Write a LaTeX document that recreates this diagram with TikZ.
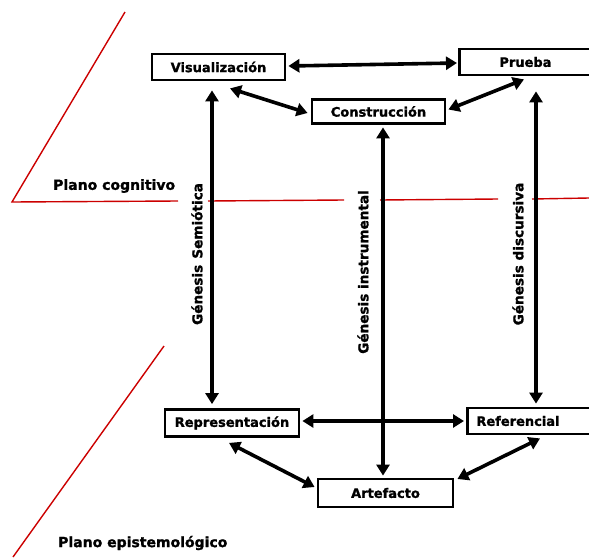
\documentclass[tikz,border=0pt]{standalone}
\usepackage{fontspec}
\setmainfont{DejaVu Sans}
\newfontfamily\heavyfont[BoldFeatures={FakeBold=1.3}]{DejaVu Sans}
\usetikzlibrary{arrows.meta}
\begin{document}
\begin{tikzpicture}[x=1pt,y=-1pt,
  box/.style={draw=black,line width=2.8pt,fill=white,inner sep=0pt,
    font=\heavyfont\bfseries\fontsize{13}{15}\selectfont},
  plane/.style={draw=red!80!black,line width=1.4pt},
  dbl/.style={line width=3.6pt,{Triangle[length=11pt,width=13pt]}-{Triangle[length=11pt,width=13pt]}},
  planelabel/.style={inner sep=0pt,font=\heavyfont\bfseries\fontsize{14}{16}\selectfont},
  genlabel/.style={inner sep=0pt,rotate=90,font=\heavyfont\bfseries\fontsize{13.6}{16}\selectfont}]
\clip (0,0) rectangle (589,557);
\fill[white] (0,0) rectangle (589,557);

% the two planes
\draw[plane] (125,12) -- (12,202) -- (178,201);
\draw[plane] (208,201) -- (344,200);
\draw[plane] (380,200) -- (498,199);
\draw[plane] (532,199) -- (589,198);
\draw[plane] (164,346) -- (13,557);
\node[planelabel,anchor=west] (pcog) at (53,186) {Plano cognitivo};
\node[planelabel,anchor=west] (pepi) at (58,543) {Plano epistemológico};

% boxes of the cognitive plane
\node[box,minimum width=133pt,minimum height=26pt] (vis) at (218.5,67) {Visualización};
\node[box,minimum width=133pt,minimum height=24pt] (con) at (378.5,111.5) {Construcción};
\node[box,anchor=west,minimum height=26pt,text width=100pt,align=left,inner xsep=40pt] (pru) at (458,62) {Prueba};

% boxes of the epistemological plane
\node[box,minimum width=134pt,minimum height=27pt] (rep) at (232,423) {Representación};
\node[box,anchor=west,minimum height=26pt,text width=140pt,align=left,inner xsep=9pt] (ref) at (466,421) {Referencial};
\node[box,minimum width=135pt,minimum height=28pt] (art) at (385.5,493) {Artefacto};

% geneses
\node[genlabel] (gsem) at (197,254) {Génesis\hspace{0.45em}Semiótica};
\node[genlabel] (gins) at (363,272) {Génesis instrumental};
\node[genlabel] (gdis) at (518,254) {Génesis discursiva};

% links
\draw[dbl] ([xshift=2pt,yshift=1pt]vis.east) -- ([xshift=-1pt,yshift=-1pt]pru.west);
\draw[dbl] ([xshift=11.5pt,yshift=-7pt]vis.south) -- ([xshift=-3pt,yshift=-1.5pt]con.west);
\draw[dbl] ([xshift=2pt,yshift=2pt]con.east) -- ([xshift=66pt,yshift=-3pt]pru.south west);
\draw[dbl] ([xshift=-6.5pt,yshift=-9pt]vis.south) -- ([xshift=-20pt,yshift=4pt]rep.north);
\draw[dbl] ([xshift=4.5pt,yshift=-2.5pt]con.south) -- ([xshift=-2.5pt,yshift=2pt]art.north);
\draw[dbl] ([xshift=78pt,yshift=-15pt]pru.south west) -- ([xshift=70pt,yshift=3pt]ref.north west);
\draw[dbl] ([xshift=2pt,yshift=2pt]rep.east) -- ([xshift=-2pt]ref.west);
\draw[dbl] ([xshift=-3pt,yshift=-5pt]rep.south) -- ([xshift=-2pt,yshift=6pt]art.west);
\draw[dbl] ([xshift=3pt,yshift=14pt]art.east) -- ([xshift=74pt,yshift=-3pt]ref.south west);
\end{tikzpicture}
\end{document}
